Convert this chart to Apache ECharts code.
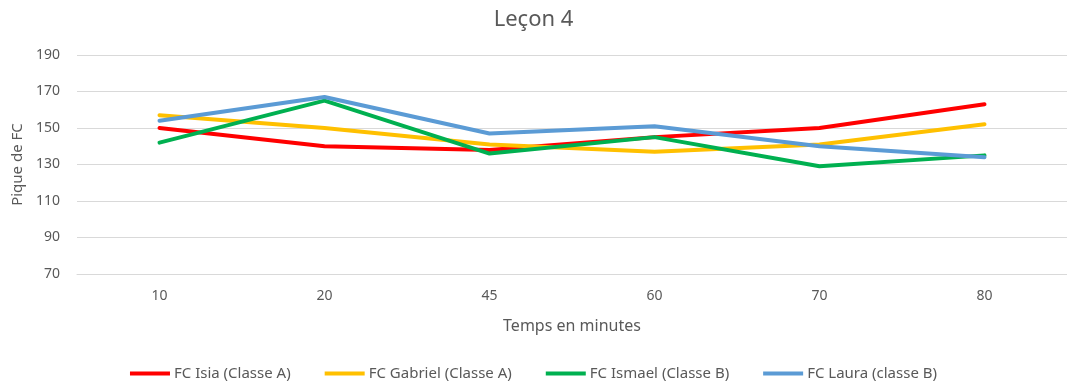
<!DOCTYPE html>
<html>
<head>
<meta charset="utf-8">
<script src="https://cdn.jsdelivr.net/npm/echarts@6/dist/echarts.min.js"></script>
<style>
  html, body { margin: 0; padding: 0; background: #fff; }
  #chart { width: 1067px; height: 390px; }
</style>
</head>
<body>
<div id="chart"></div>
<script>
// Minutes at which the heart-rate peak was measured
const categories = ['10', '20', '45', '60', '70', '80'];

// Peak heart rate (FC) per pupil
const isia    = [150, 140, 138, 145, 150, 163];
const gabriel = [157, 150, 141, 137, 141, 152];
const ismael  = [142, 165, 136, 145, 129, 135];
const laura   = [154, 167, 147, 151, 140, 134];

const seriesNames = [
  'FC Isia (Classe A)',
  'FC Gabriel (Classe A)',
  'FC Ismael (Classe B)',
  'FC Laura (classe B)'
];
const seriesColors = ['#FF0000', '#FFC000', '#00B050', '#5B9BD5'];
const seriesData = [isia, gabriel, ismael, laura];

const fontFamily = '"Noto Sans", "Open Sans", sans-serif';
const textGrey = '#595959';

const chart = echarts.init(document.getElementById('chart'));
chart.setOption({
  animation: false,
  textStyle: { fontFamily: fontFamily },
  title: {
    text: 'Leçon 4',
    left: 'center',
    top: 4,
    textStyle: { fontFamily: fontFamily, fontSize: 22, fontWeight: 'normal', color: textGrey }
  },
  legend: {
    bottom: 4,
    left: 'center',
    icon: 'rect',
    itemWidth: 40,
    itemHeight: 4,
    itemGap: 34,
    textStyle: { fontFamily: fontFamily, fontSize: 15, color: textGrey, padding: [0, 0, 0, -1] },
    data: seriesNames
  },
  grid: { left: 77, top: 55, width: 993, height: 219, containLabel: false },
  xAxis: {
    type: 'category',
    data: categories,
    boundaryGap: true,
    name: 'Temps en minutes',
    nameLocation: 'middle',
    nameGap: 44,
    nameTextStyle: { fontFamily: fontFamily, fontSize: 16, color: textGrey },
    axisLine: { show: true, lineStyle: { color: '#D9D9D9', width: 1 } },
    axisTick: { show: false },
    axisLabel: { color: textGrey, fontSize: 14, margin: 15 }
  },
  yAxis: {
    type: 'value',
    min: 70,
    max: 190,
    interval: 20,
    name: 'Pique de FC',
    nameLocation: 'middle',
    nameGap: 52,
    nameTextStyle: { fontFamily: fontFamily, fontSize: 15, color: textGrey },
    axisLine: { show: false },
    axisTick: { show: false },
    axisLabel: { color: textGrey, fontSize: 14, margin: 17 },
    splitLine: { lineStyle: { color: '#D9D9D9', width: 1 } }
  },
  series: seriesNames.map((name, i) => ({
    name: name,
    type: 'line',
    data: seriesData[i],
    symbol: 'none',
    smooth: false,
    lineStyle: { color: seriesColors[i], width: 4, cap: 'round', join: 'round' },
    itemStyle: { color: seriesColors[i] }
  }))
});
</script>
</body>
</html>
